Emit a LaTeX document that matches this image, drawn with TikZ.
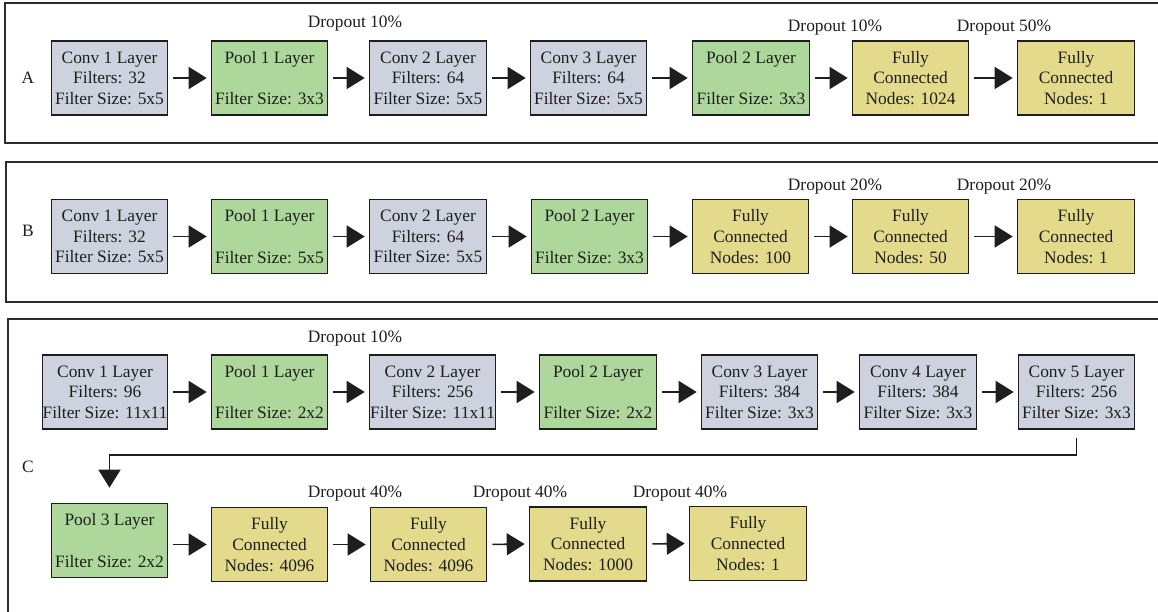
\documentclass[tikz,border=0pt]{standalone}
\usepackage{fontspec}
\setmainfont{Liberation Serif}
\usetikzlibrary{arrows.meta}
\definecolor{convc}{RGB}{206,210,222}
\definecolor{poolc}{RGB}{174,216,155}
\definecolor{fcc}{RGB}{227,219,139}
\definecolor{ink}{RGB}{30,30,30}
\definecolor{framec}{RGB}{45,45,45}
\begin{document}
\begin{tikzpicture}[x=1pt,y=-1pt,
  every node/.style={font=\fontsize{17.4}{20.6}\selectfont, text=ink},
  layer/.style={draw=ink, line width=1.6pt, rectangle, inner sep=0pt, minimum height=74pt, align=center},
  conv/.style={layer, fill=convc},
  pool/.style={layer, fill=poolc},
  fc/.style={layer, fill=fcc},
  arr/.style={draw=ink, line width=1.6pt, -{Triangle[length=18pt,width=22pt]}, shorten <=5pt, shorten >=4pt},
  frame/.style={draw=framec, line width=1.8pt},
  lbl/.style={inner sep=0pt}]
\useasboundingbox (0,0) rectangle (1158,612);
\fill[white] (0,0) rectangle (1158,612);

% frames
\draw[frame] (1158,3) -- (5,3) -- (5,143) -- (1158,143);
\draw[frame] (1158,162) -- (6,162) -- (6,302) -- (1158,302);
\draw[frame] (1158,319) -- (8,319) -- (8,612);

% panel letters
\node[lbl] (la) at (28,78) {A};
\node[lbl] (lb) at (28,231) {B};
\node[lbl] (lc) at (28,467) {C};

% ---------- Row A ----------
\node[conv, minimum width=116pt] (a1) at (109.5,78) {Conv 1 Layer\\Filters: 32\\Filter Size: 5x5};
\node[pool, minimum width=116pt] (a2) at (269.5,78) {Pool 1 Layer\\\mbox{}\\Filter Size: 3x3};
\node[conv, minimum width=117pt] (a3) at (428,78) {Conv 2 Layer\\Filters: 64\\Filter Size: 5x5};
\node[conv, minimum width=116pt] (a4) at (588.5,78) {Conv 3 Layer\\Filters: 64\\Filter Size: 5x5};
\node[pool, minimum width=117pt] (a5) at (751,78) {Pool 2 Layer\\\mbox{}\\Filter Size: 3x3};
\node[fc, minimum width=116pt] (a6) at (910.5,78) {Fully\\Connected\\Nodes: 1024};
\node[fc, minimum width=117pt] (a7) at (1076,78) {Fully\\Connected\\Nodes: 1};
\foreach \p/\q in {a1/a2,a2/a3,a3/a4,a4/a5,a5/a6,a6/a7} \draw[arr] (\p.east) -- (\q.west);
\node[lbl] (da1) at (355,23.5) {Dropout 10\%};
\node[lbl] (da2) at (835,27.5) {Dropout 10\%};
\node[lbl] (da3) at (1004,27.5) {Dropout 50\%};

% ---------- Row B ----------
\node[conv, minimum width=116pt] (b1) at (109.5,236.5) {Conv 1 Layer\\Filters: 32\\Filter Size: 5x5};
\node[pool, minimum width=116pt] (b2) at (269.5,236.5) {Pool 1 Layer\\\mbox{}\\Filter Size: 5x5};
\node[conv, minimum width=117pt] (b3) at (428,236.5) {Conv 2 Layer\\Filters: 64\\Filter Size: 5x5};
\node[pool, minimum width=116pt] (b4) at (589.5,236.5) {Pool 2 Layer\\\mbox{}\\Filter Size: 3x3};
\node[fc, minimum width=116pt] (b5) at (750.5,236.5) {Fully\\Connected\\Nodes: 100};
\node[fc, minimum width=116pt] (b6) at (910.5,236.5) {Fully\\Connected\\Nodes: 50};
\node[fc, minimum width=117pt] (b7) at (1076,236.5) {Fully\\Connected\\Nodes: 1};
\foreach \p/\q in {b1/b2,b2/b3,b3/b4,b4/b5,b5/b6,b6/b7} \draw[arr] (\p.east) -- (\q.west);
\node[lbl] (db1) at (835,187) {Dropout 20\%};
\node[lbl] (db2) at (1004,187) {Dropout 20\%};

% ---------- Row C top ----------
\node[conv, minimum width=125pt] (c1) at (105,392) {Conv 1 Layer\\Filters: 96\\Filter Size: 11x11};
\node[pool, minimum width=116pt] (c2) at (269.5,392) {Pool 1 Layer\\\mbox{}\\Filter Size: 2x2};
\node[conv, minimum width=126pt] (c3) at (432.5,392) {Conv 2 Layer\\Filters: 256\\Filter Size: 11x11};
\node[pool, minimum width=117pt] (c4) at (598,392) {Pool 2 Layer\\\mbox{}\\Filter Size: 2x2};
\node[conv, minimum width=116pt] (c5) at (759.5,392) {Conv 3 Layer\\Filters: 384\\Filter Size: 3x3};
\node[conv, minimum width=117pt] (c6) at (918,392) {Conv 4 Layer\\Filters: 384\\Filter Size: 3x3};
\node[conv, minimum width=116pt] (c7) at (1076.5,392) {Conv 5 Layer\\Filters: 256\\Filter Size: 3x3};
\foreach \p/\q in {c1/c2,c2/c3,c3/c4,c4/c5,c5/c6,c6/c7} \draw[arr] (\p.east) -- (\q.west);
\node[lbl] (dc1) at (355,339) {Dropout 10\%};

% ---------- Row C bottom ----------
\node[pool, minimum width=116pt] (c8) at (109.5,540.5) {Pool 3 Layer\\\mbox{}\\Filter Size: 2x2};
\node[fc, minimum width=116pt] (c9) at (269.5,544.5) {Fully\\Connected\\Nodes: 4096};
\node[fc, minimum width=116pt] (c10) at (428.5,544.5) {Fully\\Connected\\Nodes: 4096};
\node[fc, minimum width=117pt] (c11) at (588,544) {Fully\\Connected\\Nodes: 1000};
\node[fc, minimum width=117pt] (c12) at (748,543.5) {Fully\\Connected\\Nodes: 1};
\draw[arr] (c8.east |- c9.west) -- (c9.west);
\foreach \p/\q in {c9/c10,c10/c11,c11/c12} \draw[arr] (\p.east) -- (\q.west);
\node[lbl] (dc2) at (355,494) {Dropout 40\%};
\node[lbl] (dc3) at (520,494) {Dropout 40\%};
\node[lbl] (dc4) at (680,494) {Dropout 40\%};

% wrap-around connector
\coordinate (bend) at (0,455);
\draw[arr, shorten <=8pt, shorten >=15pt] (c7.south) -- (c7.south |- bend) -- (c8.north |- bend) -- (c8.north);
\end{tikzpicture}
\end{document}
